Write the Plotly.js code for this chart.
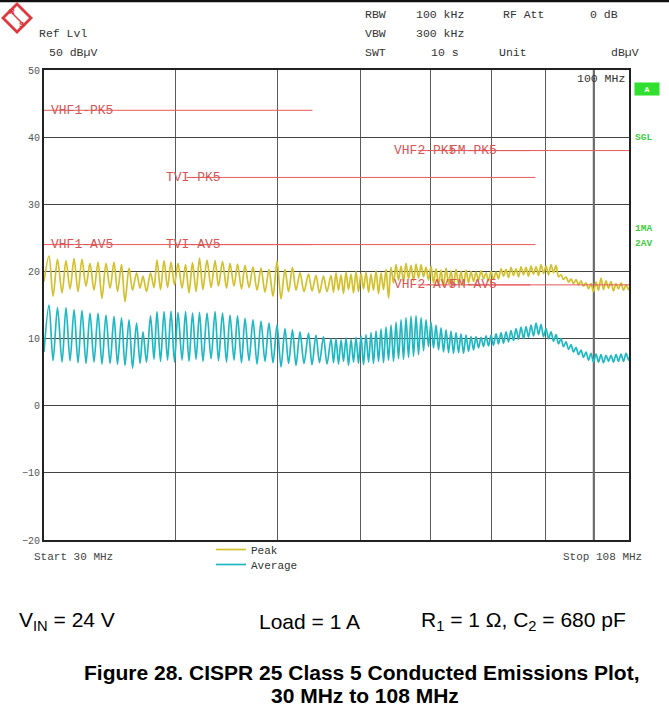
<!DOCTYPE html>
<html><head><meta charset="utf-8">
<script src="https://cdn.plot.ly/plotly-3.0.1.min.js"></script>
<style>html,body{margin:0;padding:0;background:#fff;}#chart{width:669px;height:725px;}</style>
</head><body><div id="chart"></div>
<script>
// ---- data ----
const freqMHz = [
30.00,30.33,30.60,30.90,31.21,31.48,31.76,32.04,32.32,32.60,
32.89,33.18,33.47,33.77,34.06,34.36,34.67,34.97,35.24,35.55,
35.82,36.14,36.42,36.74,37.02,37.26,37.55,37.88,38.17,38.42,
38.72,39.02,39.32,39.62,39.92,40.23,40.59,40.90,41.21,41.53,
41.85,42.17,42.49,42.87,43.25,43.63,43.96,44.35,44.74,45.08,
45.48,45.83,46.23,46.59,47.00,47.41,47.83,48.25,48.67,49.10,
49.53,49.97,50.41,50.85,51.25,51.69,52.09,52.55,53.01,53.54,
53.95,54.42,54.84,55.32,55.75,56.24,
56.55,56.86,57.17,57.49,57.80,58.12,58.44,58.76,59.08,59.41,
59.73,60.06,60.39,60.72,61.06,61.39,61.72,62.07,62.41,62.75,
63.09,63.44,63.79,64.14,64.49,64.85,65.20,65.56,65.92,66.28,
66.65,67.01,67.38,67.75,68.12,68.50,68.87,69.25,69.63,70.01,
70.39,70.78,71.17,71.56,71.95,72.35,72.75,73.14,73.54,73.95,
74.36,74.76,75.17,75.59,76.00,76.42,76.84,77.26,77.69,78.11,
78.54,78.97,79.40,79.84,80.27,80.72,81.16,81.61,82.05,82.50,
82.96,83.41,83.87,84.33,84.80,85.26,85.73,86.20,86.67,87.15,
87.62,88.11,88.59,89.08,89.56,90.06,90.55,91.05,91.55,92.05,
92.56,93.06,93.57,94.09,94.61,95.12,95.64,96.17,96.70,97.23,
97.76,98.30,98.84,99.38,99.92,100.48,101.03,101.58,102.14,102.70,
103.27,103.83,104.40,104.97,105.55,106.13,106.71,107.30,107.88,108.00
];
const peakDbuV = [
18.5,22.3,16.3,21.8,16.8,21.6,17.4,21.9,17.0,21.8,
17.8,21.2,17.2,21.4,16.0,21.2,17.5,21.4,17.0,21.0,
15.5,20.5,17.2,19.8,17.5,19.3,17.0,19.8,17.6,21.7,
17.3,21.6,17.6,21.4,18.0,21.2,17.5,21.0,16.8,21.3,
17.0,22.0,17.3,21.7,17.6,21.6,17.8,21.5,17.5,21.2,
17.8,21.1,17.4,20.9,17.6,20.7,17.2,20.5,16.9,20.3,
16.3,21.5,15.9,20.3,17.0,20.6,17.2,19.8,17.0,19.6,
17.1,19.4,16.8,19.3,17.0,19.4,
16.9,19.8,17.2,19.5,16.7,19.9,17.3,19.6,16.8,20.0,
17.0,19.7,17.4,19.9,16.9,19.6,17.2,20.1,16.7,19.8,
17.3,20.3,16.0,20.6,18.3,21.0,18.7,20.8,18.5,21.2,
18.9,20.9,18.6,21.1,19.0,21.0,19.2,20.6,18.7,20.8,
18.3,20.4,18.0,20.2,17.8,20.5,18.2,20.1,17.9,20.3,
18.1,20.0,17.8,20.2,18.3,20.0,18.5,19.9,18.7,20.1,
18.9,19.8,18.6,20.0,18.8,19.9,18.9,20.4,19.3,20.3,
19.1,20.6,19.4,20.4,19.2,20.7,19.5,20.6,19.3,20.8,
19.6,20.7,19.4,21.0,19.7,20.8,19.5,21.0,19.8,20.9,
19.2,19.5,18.8,19.2,18.4,18.9,18.2,18.8,18.0,18.6,
17.8,18.3,17.4,18.2,17.0,18.4,17.2,19.0,17.3,18.6,
17.5,18.5,17.1,18.2,17.4,18.3,17.2,18.0,17.3,17.6
];
const averageDbuV = [
8.0,15.0,6.7,14.6,6.5,14.6,6.7,14.3,6.4,14.2,
6.3,13.8,6.5,13.8,6.2,13.5,6.3,13.3,6.2,13.1,
6.0,12.8,5.6,12.3,6.3,11.0,6.5,13.4,6.9,14.0,
6.6,14.0,6.8,14.1,6.5,13.9,6.8,14.0,6.6,13.8,
6.9,13.9,6.6,13.8,7.0,14.0,6.7,13.8,6.5,13.5,
6.8,13.4,6.4,13.0,6.7,12.8,6.2,12.6,6.6,12.3,
6.4,12.0,5.8,11.5,6.3,11.3,6.0,11.0,6.3,10.8,
6.1,10.5,6.4,10.3,6.2,10.0,
6.4,10.0,6.2,9.8,6.6,10.1,6.0,9.9,6.5,10.2,
6.3,10.4,6.1,10.6,6.5,10.9,6.3,11.1,6.6,11.4,
6.4,11.7,6.8,12.0,6.6,12.4,7.0,12.8,6.9,13.1,
7.2,13.3,7.4,13.4,7.6,13.1,8.2,12.8,8.8,12.4,
8.6,12.0,8.3,11.6,8.0,11.3,7.9,11.1,7.8,10.9,
7.9,10.7,7.8,10.5,8.1,10.3,8.3,10.3,8.6,10.2,
8.8,10.4,8.9,10.5,9.0,10.7,9.2,10.9,9.3,11.0,
9.5,11.2,9.7,11.5,9.9,11.7,10.0,11.8,10.2,12.0,
10.4,12.3,10.6,12.1,10.3,11.5,10.0,11.0,9.6,10.6,
9.2,10.0,8.8,9.5,8.4,9.1,8.0,8.7,7.6,8.3,
7.2,8.0,6.8,7.8,6.5,7.7,6.5,7.6,6.4,7.5,
6.6,7.5,6.5,7.6,6.6,7.7,6.6,7.8,6.8,7.2
];
const limitNames    = ['VHF1-PK5','TVI-PK5','VHF2-PK5','FM-PK5','VHF1-AV5','TVI-AV5','VHF2-AV5','FM-AV5'];
const limitStartMHz = [30, 41, 68, 76, 30, 41, 68, 76];
const limitStopMHz  = [54, 88, 87, 108, 54, 88, 87, 108];
const limitLevel    = [44, 34, 38, 38, 24, 24, 18, 18];
const markerMHz = 100;
const xGridMHz = [40, 50, 60, 70, 80, 90, 100];
const yTickVals = [50, 40, 30, 20, 10, 0, -10, -20];

// ---- layout helpers (pixel -> paper) ----
const L = 44, R = 629, T = 70, B = 540;
const X = px => (px - L) / (R - L);
const Y = py => (B - py) / (B - T);
const MONO = 'Liberation Mono, Courier New, monospace';
const SANS = 'Liberation Sans, Arial, sans-serif';

const traces = [];
traces.push({x: [markerMHz, markerMHz], y: [-20, 50], mode: 'lines', line: {color: '#6b6b6b', width: 2.2}, showlegend: false, hoverinfo: 'skip'});
traces.push({x: freqMHz, y: peakDbuV, name: 'Peak', legend: 'legend', mode: 'lines', line: {color: '#d2c02c', width: 1.7, shape: 'spline', smoothing: 0.9}});
traces.push({x: freqMHz, y: averageDbuV, name: 'Average', legend: 'legend2', mode: 'lines', line: {color: '#1fb8c2', width: 1.7, shape: 'spline', smoothing: 0.9}});
limitNames.forEach((n, i) => traces.push({
  x: [limitStartMHz[i], limitStopMHz[i]], y: [limitLevel[i], limitLevel[i]],
  mode: 'lines', name: n, line: {color: '#e8585a', width: 1}, showlegend: false
}));

function txt(text, px, py, o) {
  o = o || {};
  const a = {xref: 'paper', yref: 'paper', x: X(px), y: Y(py), text: text, showarrow: false,
    xanchor: o.xanchor || 'left', yanchor: 'middle', borderpad: 0,
    font: {family: o.family || MONO, size: o.size || 11.5, color: o.color || '#333'},
    align: o.align || 'left'};
  if (o.bgcolor) a.bgcolor = o.bgcolor;
  if (o.width) a.width = o.width;
  if (o.height) a.height = o.height;
  return a;
}

const labelPx = [50, 165, 393, 449, 50, 165, 393, 449];
const ann = [];
limitNames.forEach((n, i) => ann.push({xref: 'paper', yref: 'y', x: X(labelPx[i]), y: limitLevel[i],
  text: n, showarrow: false, xanchor: 'left', yanchor: 'middle', borderpad: 0,
  font: {family: MONO, size: 13, color: '#d65656'}}));

// header
[['RBW',364,14],['100 kHz',415,14],['RF Att',502,14],['0 dB',589,14],
 ['Ref Lvl',38,33],['VBW',364,33],['300 kHz',415,33],
 ['50 dBµV',48,52],['SWT',364,52],['10 s',430,52],['Unit',498,52],['dBµV',610,52]]
 .forEach(a => ann.push(txt(a[0], a[1], a[2])));
ann.push(txt('100 MHz', 626, 79, {xanchor: 'right'}));
// right side status
ann.push(txt('<b>A</b>', 647, 89, {xanchor: 'center', color: '#ffffff', bgcolor: '#2fe02f', size: 8, width: 24, height: 12, align: 'center'}));
ann.push(txt('<b>SGL</b>', 634, 137, {color: '#3dcc3d', size: 9.5}));
ann.push(txt('<b>1MA</b>', 634, 228, {color: '#3dcc3d', size: 9.5}));
ann.push(txt('<b>2AV</b>', 634, 243, {color: '#3dcc3d', size: 9.5}));
// bottom
ann.push(txt('Start 30 MHz', 33, 557, {size: 11, color: '#444'}));
ann.push(txt('Stop 108 MHz', 643, 557, {xanchor: 'right', size: 11, color: '#444'}));
// logo letters
ann.push(txt('<b>R</b>', 12, 12, {xanchor: 'center', color: '#d8343c', size: 8, family: SANS}));
ann.push(txt('<b>S</b>', 22, 24.5, {xanchor: 'center', color: '#d8343c', size: 8, family: SANS}));
// captions
ann.push(txt('V<sub>IN</sub> = 24 V', 18, 621, {family: SANS, size: 21, color: '#000'}));
ann.push(txt('Load = 1 A', 258, 621, {family: SANS, size: 21, color: '#000'}));
ann.push(txt('R<sub>1</sub> = 1 Ω, C<sub>2</sub> = 680 pF', 420, 621, {family: SANS, size: 21, color: '#000'}));
ann.push(txt('<b>Figure 28. CISPR 25 Class 5 Conducted Emissions Plot,</b>', 362, 672, {xanchor: 'center', family: SANS, size: 21, color: '#000'}));
ann.push(txt('<b>30 MHz to 108 MHz</b>', 365, 695, {xanchor: 'center', family: SANS, size: 21, color: '#000'}));

const P = (pts) => 'M' + pts.map(p => X(p[0]) + ',' + Y(p[1])).join('L') + 'Z';
const shapes = [
  {type: 'line', xref: 'paper', yref: 'paper', x0: X(0), x1: X(669), y0: Y(1), y1: Y(1), line: {color: '#111', width: 2.5}},
  {type: 'path', xref: 'paper', yref: 'paper', path: P([[17,2],[33,18],[17,34],[1,18]]), fillcolor: '#dd3a40', line: {width: 0}},
  {type: 'path', xref: 'paper', yref: 'paper', path: P([[17,6],[29,18],[17,30],[5,18]]), fillcolor: '#ffffff', line: {width: 0}},
  {type: 'line', xref: 'paper', yref: 'paper', x0: X(9), y0: Y(10), x1: X(25), y1: Y(26), line: {color: '#dd3a40', width: 1.4}}
];

const legFont = {family: MONO, size: 11, color: '#333'};
const layout = {
  width: 669, height: 725,
  margin: {l: L, r: 669 - R, t: T, b: 725 - B},
  paper_bgcolor: '#fff', plot_bgcolor: '#fff',
  showlegend: true,
  legend: {x: X(211), y: Y(535), xanchor: 'left', yanchor: 'top', bgcolor: 'rgba(0,0,0,0)', font: legFont, itemwidth: 30},
  legend2: {x: X(211), y: Y(550), xanchor: 'left', yanchor: 'top', bgcolor: 'rgba(0,0,0,0)', font: legFont, itemwidth: 30},
  xaxis: {type: 'log', range: [Math.log10(30), Math.log10(108)], tickvals: xGridMHz,
    showticklabels: false, ticks: '', showgrid: true, gridcolor: '#5a5a5a', gridwidth: 1,
    showline: true, mirror: true, linecolor: '#222', linewidth: 2, zeroline: false, fixedrange: true},
  yaxis: {range: [-20, 50], tickvals: yTickVals, ticks: '', showgrid: true, gridcolor: '#444', gridwidth: 1,
    tickfont: {family: MONO, size: 10, color: '#555'}, showline: true, mirror: true,
    linecolor: '#222', linewidth: 2, zeroline: false, fixedrange: true},
  annotations: ann,
  shapes: shapes
};
Plotly.newPlot('chart', traces, layout, {staticPlot: true, displayModeBar: false});
</script></body></html>
